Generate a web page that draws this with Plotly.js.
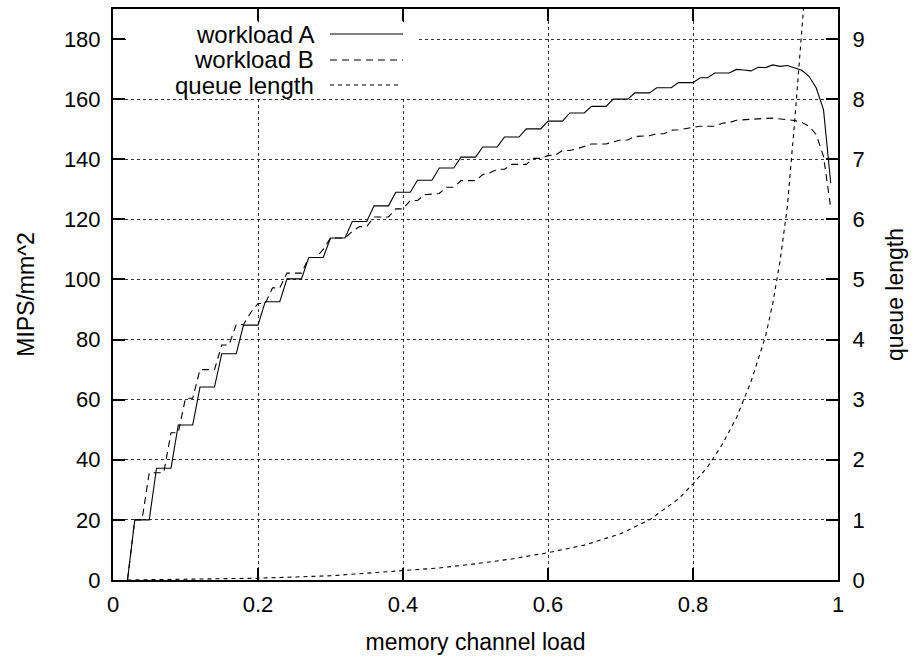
<!DOCTYPE html>
<html>
<head>
<meta charset="utf-8">
<script src="https://cdn.plot.ly/plotly-3.0.1.min.js"></script>
<style>html,body{margin:0;padding:0;background:#fff}#chart{width:914px;height:660px}</style>
</head>
<body>
<div id="chart"></div>
<script>
// workload A (MIPS/mm^2) — corner points of the stepped curve
var loadA = [0.02,0.03,0.05,0.06,0.08,0.09,0.11,0.12,0.14,0.15,0.17,0.18,0.20,0.21,0.23,0.24,0.26,0.27,0.29,0.30,0.32,0.33,0.35,0.36,0.38,0.39,0.41,0.42,0.44,0.45,0.47,0.48,0.50,0.51,0.53,0.54,0.56,0.57,0.59,0.60,0.62,0.63,0.65,0.66,0.68,0.69,0.71,0.72,0.74,0.75,0.77,0.78,0.80,0.81,0.82,0.83,0.85,0.86,0.87,0.88,0.89,0.90,0.91,0.92,0.93,0.94,0.95,0.96,0.97,0.98,0.99];
var mipsA = [0,20,20,37.2,37.2,51.6,51.6,64.2,64.2,75.3,75.3,84.8,84.8,92.6,92.6,100.2,100.2,107.3,107.3,113.8,113.8,119.3,119.3,124.5,124.5,129,129,133,133,137.1,137.1,140.7,140.7,144.1,144.1,147.4,147.4,150.1,150.1,152.7,152.7,155.4,155.4,157.6,157.6,160.0,160.0,162.1,162.1,163.8,163.8,165.5,165.5,167.1,167.1,168.7,168.7,169.9,169.7,169.4,170.6,170.5,171.4,170.9,171.2,170.4,169.6,167.6,163.7,156.5,132];

// workload B (MIPS/mm^2)
var loadB = [0.02,0.03,0.04,0.05,0.07,0.08,0.09,0.10,0.11,0.12,0.14,0.15,0.16,0.17,0.18,0.19,0.20,0.21,0.22,0.23,0.24,0.26,0.27,0.28,0.29,0.30,0.32,0.33,0.34,0.35,0.36,0.38,0.39,0.40,0.41,0.42,0.43,0.45,0.46,0.47,0.48,0.50,0.51,0.52,0.53,0.54,0.55,0.57,0.58,0.59,0.60,0.61,0.62,0.63,0.64,0.65,0.66,0.68,0.69,0.70,0.71,0.72,0.74,0.75,0.76,0.77,0.78,0.79,0.80,0.81,0.83,0.84,0.85,0.86,0.87,0.88,0.89,0.90,0.91,0.92,0.93,0.94,0.95,0.96,0.97,0.98,0.99];
var mipsB = [0,20,20,35.7,35.7,49,49,60.5,60.5,70,70,78.2,78.2,85,85,89,92,92,97.2,97.2,102.1,102.1,107.3,107.3,110,113.8,113.8,116,117.6,117.6,120.8,120.8,123.5,123.5,126.3,126.3,128.2,128.6,130.7,130.7,132.9,132.9,134.9,135.5,136.7,136.7,138.3,138.3,140.3,140.3,141.2,141.4,142.9,142.9,143.5,144.2,145.1,145.1,145.8,146.4,146.4,147.6,147.8,148.5,148.5,149.7,149.8,150.3,150.6,151,151,152,152.2,153.0,153.2,153.3,153.4,153.6,153.7,153.5,153.1,152.9,152.3,151,148.2,141,123.8];

// queue length (right axis)
var loadQ = [0.02,0.1,0.2,0.3,0.4,0.45,0.5,0.55,0.6,0.65,0.7,0.74,0.78,0.8,0.82,0.84,0.86,0.88,0.9,0.91,0.92,0.93,0.94,0.945,0.95,0.955];
var queueQ = [0,0.01,0.03,0.07,0.15,0.2,0.27,0.35,0.455,0.58,0.77,1.0,1.35,1.6,1.88,2.25,2.7,3.3,4.05,4.6,5.3,6.2,7.6,8.4,9.1,9.9];

var seriesNames = ['workload A','workload B','queue length'];
var xTicks = [0,0.2,0.4,0.6,0.8,1];
var xTickText = ['0','0.2','0.4','0.6','0.8','1'];
var yTicks = [0,20,40,60,80,100,120,140,160,180];
var y2Ticks = [0,1,2,3,4,5,6,7,8,9];

var FONT = 'Liberation Sans, Arial, Helvetica, sans-serif';
var FS = 22, FT = 23, FL = 24;
var dashA = 'solid', dashB = '7px,5px', dashQ = '4px,4px';

var traces = [
  {x: loadA, y: mipsA, type: 'scatter', mode: 'lines', name: seriesNames[0],
   line: {color: '#000', width: 1.1, dash: dashA}},
  {x: loadB, y: mipsB, type: 'scatter', mode: 'lines', name: seriesNames[1],
   line: {color: '#000', width: 1.1, dash: dashB}},
  {x: loadQ, y: queueQ, type: 'scatter', mode: 'lines', name: seriesNames[2], yaxis: 'y2',
   line: {color: '#000', width: 1.1, dash: dashQ}}
];

// legend drawn gnuplot-style: text right-aligned, sample to the right
var rowsY = [0.9562, 0.9107, 0.8669];
var dashes = [dashA, dashB, dashQ];
var sampleEnd = [0.40, 0.40, 0.394];
var annotations = [];
var shapes = [{type: 'rect', xref: 'paper', yref: 'paper', x0: 0.018, x1: 0.419, y0: 0.847, y1: 0.977,
  fillcolor: '#fff', line: {width: 0}, layer: 'above'}];
for (var i = 0; i < 3; i++) {
  annotations.push({xref: 'paper', yref: 'paper', x: 0.279, y: rowsY[i], xanchor: 'right', yanchor: 'middle',
    text: seriesNames[i], showarrow: false, borderpad: 0, font: {family: FONT, size: FL, color: '#000'}});
  shapes.push({type: 'line', xref: 'paper', yref: 'paper', x0: 0.2993, x1: sampleEnd[i], y0: rowsY[i], y1: rowsY[i],
    line: {color: '#000', width: 1.1, dash: dashes[i]}, layer: 'above'});
}

var axisCommon = {
  showline: true, linecolor: '#000', linewidth: 2,
  ticks: 'inside', ticklen: 12, tickwidth: 2, tickcolor: '#000',
  showgrid: true, gridcolor: '#333', gridwidth: 1, griddash: 'dot',
  zeroline: false, tickfont: {family: FONT, size: FS, color: '#000'}
};

var layout = {
  width: 914, height: 660,
  margin: {l: 113, r: 76, t: 9, b: 80},
  paper_bgcolor: '#fff', plot_bgcolor: '#fff',
  showlegend: false,
  font: {family: FONT, size: FS, color: '#000'},
  xaxis: Object.assign({}, axisCommon, {
    range: [0, 1], tickvals: xTicks, ticktext: xTickText, mirror: 'ticks', ticklabelstandoff: 4,
    title: {text: 'memory channel load', font: {family: FONT, size: FT}, standoff: 17}
  }),
  yaxis: Object.assign({}, axisCommon, {
    range: [0, 190], tickvals: yTicks, mirror: true, ticklabelstandoff: 6,
    title: {text: 'MIPS/mm^2', font: {family: FONT, size: FT}, standoff: 23}
  }),
  yaxis2: Object.assign({}, axisCommon, {
    range: [0, 9.5], tickvals: y2Ticks, overlaying: 'y', side: 'right', showgrid: false, ticklabelstandoff: 8,
    title: {text: 'queue length', font: {family: FONT, size: FT}, standoff: 23}
  }),
  annotations: annotations,
  shapes: shapes
};

Plotly.newPlot('chart', traces, layout, {staticPlot: true, displayModeBar: false});
</script>
</body>
</html>
